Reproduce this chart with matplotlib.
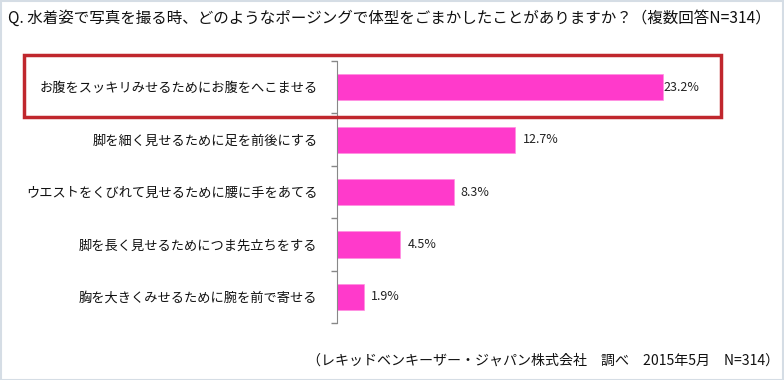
import matplotlib.pyplot as plt
from matplotlib.patches import Rectangle

plt.rcParams['font.family'] = ['Noto Sans CJK JP', 'DejaVu Sans']

title = 'Q. 水着姿で写真を撮る時、どのようなポージングで体型をごまかしたことがありますか？（複数回答N=314）'
source = '（レキッドベンキーザー・ジャパン株式会社　調べ　2015年5月　N=314）'
labels = [
    'お腹をスッキリみせるためにお腹をへこませる',
    '脚を細く見せるために足を前後にする',
    'ウエストをくびれて見せるために腰に手をあてる',
    '脚を長く見せるためにつま先立ちをする',
    '胸を大きくみせるために腕を前で寄せる',
]
values = [23.2, 12.7, 8.3, 4.5, 1.9]

W, H = 784, 380
fig = plt.figure(figsize=(W / 100, H / 100), dpi=100)

# light frame round the picture
fig.patches.append(Rectangle((0.5 / W, 0.5 / H), 1 - 1.5 / W, 1 - 1.5 / H,
                             transform=fig.transFigure, fill=False,
                             edgecolor='#d5dde5', linewidth=1.5))

ax_l, ax_r = 337 / W, 780 / W
ax_b, ax_t = 1 - 323 / H, 1 - 61 / H
ax = fig.add_axes([ax_l, ax_b, ax_r - ax_l, ax_t - ax_b])

pos = list(range(len(labels)))
ax.barh(pos, values, height=0.5, color='#ff3acb', edgecolor='#ff8ee0', linewidth=0.5)
ax.set_xlim(0, (780 - 337) / 14.05)
ax.set_ylim(len(labels) - 0.5, -0.5)

for i, v in enumerate(values):
    off = 0.02 if i == 0 else 0.5
    ax.text(v + off, i, f'{v}%', va='center', ha='left', fontsize=9, color='#222222')

ax.set_yticks(pos)
ax.set_yticklabels(labels, fontsize=9.5, color='#111111')
ax.tick_params(axis='y', which='major', length=0, pad=14)
ax.set_yticks([p - 0.5 for p in pos] + [len(labels) - 0.5], minor=True)
ax.tick_params(axis='y', which='minor', length=4, color='#888888', width=1)
ax.set_xticks([])
for s in ['top', 'right', 'bottom']:
    ax.spines[s].set_visible(False)
ax.spines['left'].set_color('#888888')

# red highlight box round the first row
fig.patches.append(Rectangle((24 / W, 1 - 117 / H), (721 - 24) / W, (117 - 55) / H,
                             transform=fig.transFigure, fill=False,
                             edgecolor='#c0272d', linewidth=2.5))

fig.text(8 / W, 1 - 18 / H, title, fontsize=11.2, va='center', ha='left', color='#111111')
fig.text(779 / W, 1 - 361 / H, source, fontsize=10.1, va='center', ha='right', color='#111111')

fig.savefig('out.png', dpi=100)
